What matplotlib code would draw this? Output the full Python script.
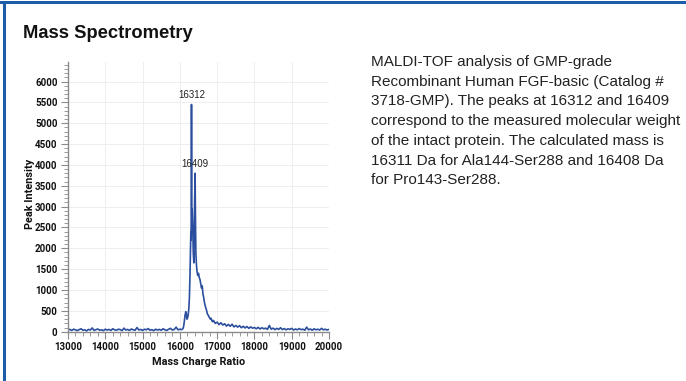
import matplotlib
matplotlib.use("Agg")
import matplotlib.pyplot as plt
from matplotlib.ticker import MultipleLocator
from matplotlib import font_manager
from matplotlib.patches import Rectangle

# ---------------- data ----------------
base_mass = [13000, 13050, 13100, 13150, 13200, 13250, 13300, 13350, 13400, 13450,
             13500, 13550, 13600, 13650, 13700, 13750, 13800, 13850, 13900, 13950,
             14000, 14050, 14100, 14150, 14200, 14250, 14300, 14350, 14400, 14450,
             14500, 14550, 14600, 14650, 14700, 14750, 14800, 14850, 14900, 14950,
             15000, 15050, 15100, 15150, 15200, 15250, 15300, 15350, 15400, 15450,
             15500, 15550, 15600, 15650, 15700, 15750, 15800, 15850, 15900, 15950,
             16000, 16050]
base_int = [40, 55, 30, 60, 45, 25, 50, 70, 35, 45,
            20, 55, 40, 90, 30, 50, 65, 35, 45, 25,
            60, 40, 55, 30, 70, 45, 35, 60, 50, 25,
            85, 40, 55, 30, 65, 45, 35, 100, 40, 55,
            30, 60, 45, 75, 35, 50, 25, 60, 40, 55,
            35, 70, 45, 30, 60, 80, 40, 55, 110, 45,
            60, 50]

peak_mass = [16080, 16100, 16120, 16140, 16160, 16175, 16190, 16205, 16220, 16240,
             16255, 16270, 16285, 16295, 16300, 16305, 16310, 16312, 16315, 16320,
             16330, 16345, 16360, 16375, 16385, 16395, 16405, 16409, 16413, 16420,
             16430, 16445, 16460, 16480, 16500, 16520, 16540, 16560, 16580, 16600,
             16620, 16640, 16660, 16680, 16700, 16720, 16740, 16760, 16780, 16800,
             16820, 16840, 16860, 16880, 16900]
peak_int = [70, 120, 250, 400, 480, 420, 300, 330, 380, 550,
            800, 1300, 1900, 2400, 2200, 2900, 3600, 5450, 3700, 2800,
            2950, 2500, 1900, 1650, 2200, 3100, 3500, 3800, 3300, 2600,
            1900, 1600, 1450, 1350, 1400, 1300, 1250, 1150, 1050, 1100,
            900, 820, 700, 620, 560, 500, 420, 400, 360, 330,
            300, 320, 260, 240, 270]

tail_mass = [16950, 17000, 17050, 17100, 17150, 17200, 17250, 17300, 17350, 17400,
             17450, 17500, 17550, 17600, 17650, 17700, 17750, 17800, 17850, 17900,
             17950, 18000, 18050, 18100, 18150, 18200, 18250, 18300, 18350, 18400,
             18450, 18500, 18550, 18600, 18650, 18700, 18750, 18800, 18850, 18900,
             18950, 19000, 19050, 19100, 19150, 19200, 19250, 19300, 19350, 19400,
             19450, 19500, 19550, 19600, 19650, 19700, 19750, 19800, 19850, 19900,
             19950, 20000]
tail_int = [200, 230, 170, 215, 160, 190, 135, 175, 130, 180,
            115, 150, 110, 145, 95, 130, 90, 125, 80, 115,
            85, 100, 70, 105, 65, 95, 70, 85, 55, 150,
            60, 85, 50, 80, 55, 95, 50, 75, 45, 70,
            55, 80, 40, 65, 45, 75, 50, 60, 35, 110,
            45, 65, 35, 70, 45, 60, 40, 80, 45, 60,
            40, 55]

peak_labels = ["16312", "16409"]
peak_label_mass = [16312, 16409]
peak_label_int = [5450, 3800]

x_ticks = [13000, 14000, 15000, 16000, 17000, 18000, 19000, 20000]
y_ticks = [0, 500, 1000, 1500, 2000, 2500, 3000, 3500, 4000, 4500, 5000, 5500, 6000]

title = "Mass Spectrometry"
description = ("MALDI-TOF analysis of GMP-grade\n"
               "Recombinant Human FGF-basic (Catalog #\n"
               "3718-GMP). The peaks at 16312 and 16409\n"
               "correspond to the measured molecular weight\n"
               "of the intact protein. The calculated mass is\n"
               "16311 Da for Ala144-Ser288 and 16408 Da\n"
               "for Pro143-Ser288.")

# ---------------- fonts ----------------
avail = {f.name for f in font_manager.fontManager.ttflist}
tickfont = "Roboto" if "Roboto" in avail else "DejaVu Sans"
sans = "Liberation Sans" if "Liberation Sans" in avail else "DejaVu Sans"

# ---------------- figure ----------------
W, H = 686, 381
fig = plt.figure(figsize=(W / 100, H / 100), dpi=100)
fig.patch.set_facecolor("white")

border = "#1d5ca6"
fig.add_artist(Rectangle((0, 1 - 3.5 / H), 1, 2.2 / H, transform=fig.transFigure,
                         facecolor=border, edgecolor="none"))
fig.add_artist(Rectangle((3 / W, 0), 3 / W, 1 - 1.5 / H, transform=fig.transFigure,
                         facecolor=border, edgecolor="none"))

fig.text(23 / W, 1 - 38.5 / H, title, fontsize=13.2, fontweight="bold",
         family=sans, color="#111111", va="baseline", ha="left")

fig.text(371 / W, 1 - 55 / H, description, fontsize=11.0, family=sans,
         color="#222222", va="top", ha="left", linespacing=1.52)

ax = fig.add_axes([68 / W, 1 - 331.7 / H, 261 / W, (331.7 - 62) / H])
mass = base_mass + peak_mass + tail_mass
inten = base_int + peak_int + tail_int
ax.plot(mass, inten, color="#2b4f9e", lw=1.2)

ax.set_xlim(13000, 20000)
ax.set_ylim(0, 6470)
ax.set_xticks(x_ticks)
ax.set_yticks(y_ticks)
ax.xaxis.set_minor_locator(MultipleLocator(200))
ax.yaxis.set_minor_locator(MultipleLocator(100))
ax.grid(True, which="major", color="#eeeeee", lw=0.7)
ax.set_axisbelow(True)
for s in ["top", "right"]:
    ax.spines[s].set_visible(False)
for s in ["left", "bottom"]:
    ax.spines[s].set_color("#8a8a8a")
    ax.spines[s].set_linewidth(1.0)
ax.tick_params(which="major", length=5, width=0.8, color="#8a8a8a", pad=2.5,
               labelsize=7.0)
ax.tick_params(which="minor", length=3, width=0.6, color="#8a8a8a")
for lab in ax.get_xticklabels() + ax.get_yticklabels():
    lab.set_fontfamily(tickfont)
    lab.set_fontweight("bold")
    lab.set_color("#111111")

ax.set_xlabel("Mass Charge Ratio", fontsize=7.8, fontweight="bold", family=tickfont,
              color="#111111")
ax.set_ylabel("Peak Intensity", fontsize=7.8, fontweight="bold", family=tickfont,
              color="#111111")
ax.xaxis.set_label_coords((199 - 68) / 261, -(362 - 331.7) / (331.7 - 62))
ax.yaxis.set_label_coords(-(68 - 30) / 261, (331.7 - 194) / (331.7 - 62))
ax.xaxis.label.set_va("center")
ax.yaxis.label.set_va("center")

for lab, m, v in zip(peak_labels, peak_label_mass, peak_label_int):
    ax.annotate(lab, (m, v), xytext=(0, 3), textcoords="offset points",
                ha="center", va="bottom", fontsize=7, family=sans, color="#222222")

fig.savefig("out.png", dpi=100, facecolor="white")
